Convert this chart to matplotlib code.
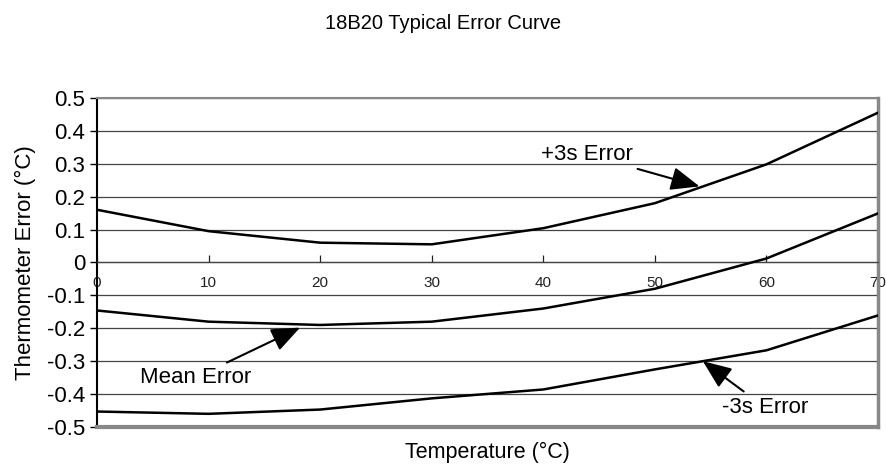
import matplotlib.pyplot as plt

plt.rcParams['font.family'] = ['Liberation Sans', 'DejaVu Sans']

temps = [0, 10, 20, 30, 40, 50, 60, 70]
plus3s = [0.16, 0.095, 0.06, 0.055, 0.104, 0.18, 0.298, 0.455]
mean_err = [-0.146, -0.18, -0.19, -0.18, -0.14, -0.08, 0.012, 0.149]
minus3s = [-0.453, -0.46, -0.447, -0.413, -0.386, -0.325, -0.267, -0.161]
yticks = [0.5, 0.4, 0.3, 0.2, 0.1, 0, -0.1, -0.2, -0.3, -0.4, -0.5]

fig = plt.figure(figsize=(8.86, 4.66), dpi=100)
ax = fig.add_axes([0.1095, 0.0837, 0.8815, 0.7063])

for y in yticks:
    ax.axhline(y, color="#444444", lw=0.9, zorder=1)

for s in [plus3s, mean_err, minus3s]:
    ax.plot(temps, s, color="black", lw=1.8, zorder=3)

ax.set_xlim(0, 70)
ax.set_ylim(-0.5, 0.5)

# x axis sits at zero, frame drawn in grey
ax.spines['bottom'].set_position(('data', 0))
ax.spines['bottom'].set_color("#444444")
ax.spines['bottom'].set_linewidth(0.9)
ax.spines['left'].set_linewidth(1.5)
ax.spines['top'].set_color("#888888")
ax.spines['top'].set_linewidth(1.5)
ax.spines['right'].set_color("#888888")
ax.spines['right'].set_linewidth(2.5)
ax.plot([0, 1], [0, 0], transform=ax.transAxes, color="#888888", lw=3,
        clip_on=False, zorder=4)

ax.set_xticks(temps)
ax.set_xticklabels([str(t) for t in temps], fontsize=11)
ax.tick_params(axis='x', direction='in', length=5, width=0.9, pad=10, colors="#222222")
ax.set_yticks(yticks)
ax.set_yticklabels(["0.5", "0.4", "0.3", "0.2", "0.1", "0", "-0.1", "-0.2", "-0.3",
                    "-0.4", "-0.5"], fontsize=16)
ax.tick_params(axis='y', direction='out', length=5, width=1)

ax.set_xlabel("Temperature (°C)", fontsize=15.5)
ax.xaxis.set_label_coords(0.5, -0.045)
ax.set_ylabel("Thermometer Error (°C)", fontsize=16, labelpad=8)
fig.suptitle("18B20 Typical Error Curve", fontsize=14.5, y=0.97)

arrow = dict(arrowstyle="-|>,head_length=1.1,head_width=0.45", color="black", lw=1.5,
             shrinkA=3, shrinkB=0)
ax.annotate("+3s Error", xy=(54.0, 0.231), xytext=(48.0, 0.328), fontsize=16,
            ha="right", va="center", arrowprops=arrow)
ax.annotate("Mean Error", xy=(18.2, -0.198), xytext=(13.8, -0.35), fontsize=16,
            ha="right", va="center", arrowprops=arrow)
ax.annotate("-3s Error", xy=(54.3, -0.30), xytext=(56.0, -0.44), fontsize=16,
            ha="left", va="center", arrowprops=arrow)

fig.savefig("out.png", dpi=100)
